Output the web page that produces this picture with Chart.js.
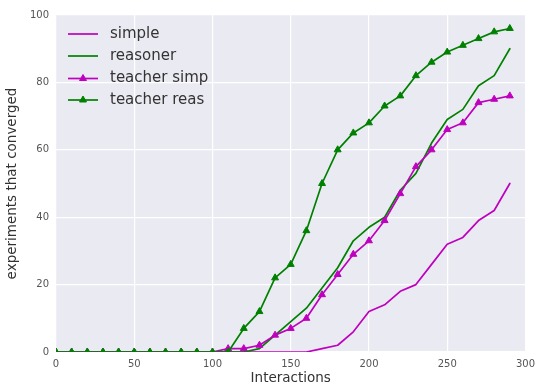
<!DOCTYPE html>
<html>
<head>
<meta charset="utf-8">
<script src="https://cdn.jsdelivr.net/npm/chart.js@4/dist/chart.umd.min.js"></script>
<style>
  html, body { margin: 0; padding: 0; background: #ffffff; }
  canvas { display: block; }
</style>
</head>
<body>
<canvas id="c" width="541" height="388"></canvas>
<script>
// Number of interactions at which convergence was measured
const interactions = [0, 10, 20, 30, 40, 50, 60, 70, 80, 90, 100, 110, 120, 130, 140,
                      150, 160, 170, 180, 190, 200, 210, 220, 230, 240, 250, 260, 270, 280, 290];

// Experiments that converged (out of 100)
const simple      = [0, 0, 0, 0, 0, 0, 0, 0, 0, 0, 0, 0, 0, 0, 0,
                     0, 0, 1, 2, 6, 12, 14, 18, 20, 26, 32, 34, 39, 42, 50];
const reasoner    = [0, 0, 0, 0, 0, 0, 0, 0, 0, 0, 0, 0, 0, 1, 5,
                     9, 13, 19, 25, 33, 37, 40, 48, 53, 62, 69, 72, 79, 82, 90];
const teacherSimp = [0, 0, 0, 0, 0, 0, 0, 0, 0, 0, 0, 1, 1, 2, 5,
                     7, 10, 17, 23, 29, 33, 39, 47, 55, 60, 66, 68, 74, 75, 76];
const teacherReas = [0, 0, 0, 0, 0, 0, 0, 0, 0, 0, 0, 0, 7, 12, 22,
                     26, 36, 50, 60, 65, 68, 73, 76, 82, 86, 89, 91, 93, 95, 96];

const seriesNames = ['simple', 'reasoner', 'teacher simp', 'teacher reas'];
const xTicks = [0, 50, 100, 150, 200, 250, 300];
const yTicks = [0, 20, 40, 60, 80, 100];

const MAGENTA = '#bf00bf';
const GREEN = '#008000';
const FONT = "'DejaVu Sans', sans-serif";

function pts(values) {
  return values.map((v, i) => ({ x: interactions[i], y: v }));
}

function makeSet(label, values, color, marker, order) {
  return {
    label: label,
    data: pts(values),
    borderColor: color,
    backgroundColor: color,
    borderWidth: 1.7,
    pointStyle: 'triangle',
    pointRadius: marker ? 4 : 0,
    pointBorderWidth: 1,
    pointBackgroundColor: color,
    pointBorderColor: color,
    tension: 0,
    order: order,
    marker: marker
  };
}

// Gray plot background behind the grid
const plotBackground = {
  id: 'plotBackground',
  beforeDraw(chart) {
    const { ctx, chartArea: a } = chart;
    ctx.save();
    ctx.fillStyle = '#eaeaf2';
    ctx.fillRect(a.left, a.top, a.right - a.left, a.bottom - a.top);
    ctx.restore();
  }
};

// Legend drawn inside the upper-left corner of the plot, without a frame
const innerLegend = {
  id: 'innerLegend',
  afterDatasetsDraw(chart) {
    const { ctx, chartArea: a } = chart;
    const sets = chart.data.datasets;
    const rowY = [19, 41, 63.5, 85];
    ctx.save();
    sets.forEach((ds, i) => {
      const y = a.top + rowY[i];
      const x0 = a.left + 12, x1 = a.left + 42;
      ctx.strokeStyle = ds.borderColor;
      ctx.lineWidth = 1.7;
      ctx.beginPath();
      ctx.moveTo(x0, y);
      ctx.lineTo(x1, y);
      ctx.stroke();
      if (ds.marker) {
        const cx = (x0 + x1) / 2;
        ctx.fillStyle = ds.borderColor;
        ctx.strokeStyle = ds.borderColor;
        ctx.lineWidth = 1;
        Chart.helpers.drawPoint(ctx, { pointStyle: 'triangle', radius: 4, borderWidth: 1 }, cx, y);
      }
      ctx.fillStyle = '#333333';
      ctx.font = '15px ' + FONT;
      ctx.textBaseline = 'middle';
      ctx.textAlign = 'left';
      ctx.fillText(ds.label, a.left + 54, y);
    });
    ctx.restore();
  }
};

const ctx = document.getElementById('c').getContext('2d');
new Chart(ctx, {
  type: 'line',
  data: {
    datasets: [
      makeSet(seriesNames[0], simple, MAGENTA, false, 4),
      makeSet(seriesNames[1], reasoner, GREEN, false, 3),
      makeSet(seriesNames[2], teacherSimp, MAGENTA, true, 2),
      makeSet(seriesNames[3], teacherReas, GREEN, true, 1)
    ]
  },
  options: {
    responsive: false,
    animation: false,
    devicePixelRatio: 1,
    layout: { padding: { top: 15, right: 8, left: 0, bottom: 0 } },
    plugins: {
      legend: { display: false },
      tooltip: { enabled: false }
    },
    elements: { line: { borderJoinStyle: 'round', borderCapStyle: 'round' } },
    scales: {
      x: {
        type: 'linear',
        min: 0,
        max: 300,
        afterBuildTicks(scale) { scale.ticks = xTicks.map(v => ({ value: v })); },
        afterFit(scale) { scale.height = 36; },
        grid: { color: '#ffffff', lineWidth: 1.2, drawTicks: false },
        border: { display: false },
        ticks: {
          color: '#555555',
          font: { family: FONT, size: 10 },
          padding: 6,
          maxRotation: 0
        },
        title: {
          display: true,
          text: 'Interactions',
          color: '#333333',
          font: { family: FONT, size: 13.5 },
          padding: { top: 0, bottom: 1 }
        }
      },
      y: {
        type: 'linear',
        min: 0,
        max: 100,
        afterBuildTicks(scale) { scale.ticks = yTicks.map(v => ({ value: v })); },
        afterFit(scale) { scale.width = 56; },
        grid: { color: '#ffffff', lineWidth: 1.2, drawTicks: false },
        border: { display: false },
        ticks: {
          color: '#555555',
          font: { family: FONT, size: 10 },
          padding: 7
        },
        title: {
          display: true,
          text: 'experiments that converged',
          color: '#333333',
          font: { family: FONT, size: 13.5 },
          padding: { top: 4, bottom: 0 }
        }
      }
    }
  },
  plugins: [plotBackground, innerLegend]
});
</script>
</body>
</html>
